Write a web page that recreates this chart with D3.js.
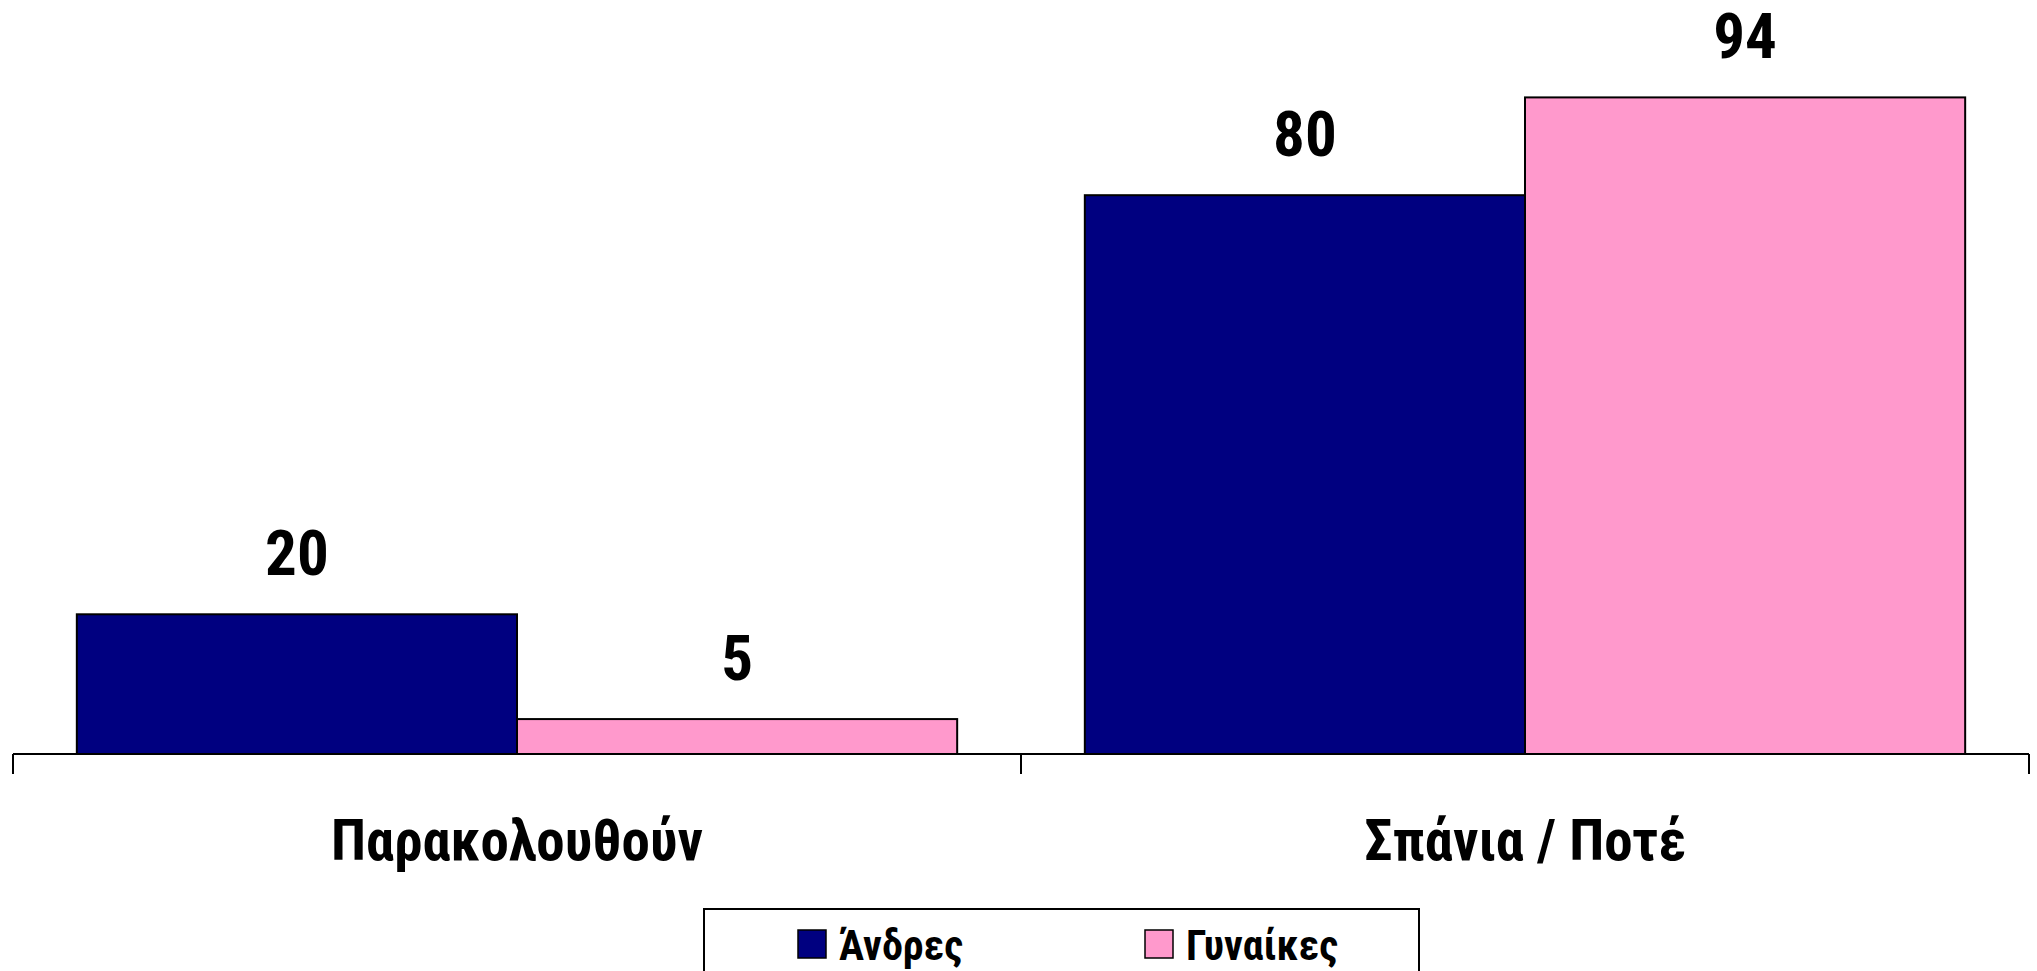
<!DOCTYPE html>
<html>
<head>
<meta charset="utf-8">
<script src="https://cdn.jsdelivr.net/npm/d3@7"></script>
<style>
body{margin:0;background:#fff;}
text{font-family:"Liberation Sans Narrow","Arial Narrow","Roboto Condensed",sans-serif;font-weight:bold;}
</style>
</head>
<body>
<div id="chart"></div>
<script>
// data
var categories=["Παρακολουθούν","Σπάνια / Ποτέ"]
var seriesNames=["Άνδρες","Γυναίκες"]
var andres=[20,80]
var gynaikes=[5,94]
var colors=["#000080","#ff99cc"]

var width=2037, height=971
var base=754

var svg=d3.select("#chart").append("svg")
	.attr("width",width)
	.attr("height",height)

var x0=d3.scaleBand().domain(categories).range([13,2029])
var x1=d3.scaleBand().domain(seriesNames).range([0,x0.bandwidth()]).paddingOuter(0.145)
var y=d3.scaleLinear().domain([0,100]).range([base,55.5])

var rows=categories.map(function(c,i){
	return {cat:c,vals:[{s:seriesNames[0],v:andres[i],c:colors[0]},{s:seriesNames[1],v:gynaikes[i],c:colors[1]}]}
})

var g=svg.selectAll(".grp").data(rows).enter().append("g")
	.attr("class","grp")
	.attr("transform",function(d){return "translate("+x0(d.cat)+",0)"})

g.selectAll("rect").data(function(d){return d.vals}).enter().append("rect")
	.attr("x",function(d){return x1(d.s)})
	.attr("y",function(d){return y(d.v)})
	.attr("width",x1.bandwidth())
	.attr("height",function(d){return base-y(d.v)})
	.attr("fill",function(d){return d.c})
	.attr("stroke","#000")
	.attr("stroke-width",2)

g.selectAll(".val").data(function(d){return d.vals}).enter().append("text")
	.attr("class","val")
	.attr("x",function(d){return x1(d.s)+x1.bandwidth()/2})
	.attr("y",function(d){return y(d.v)-39})
	.attr("text-anchor","middle")
	.style("font-size","63px")
	.text(function(d){return d.v})

// axis: baseline with ticks at the category boundaries
var bounds=[x0.range()[0]].concat(categories.map(function(c){return x0(c)+x0.bandwidth()}))
svg.append("line")
	.attr("x1",x0.range()[0]).attr("x2",x0.range()[1])
	.attr("y1",base).attr("y2",base)
	.attr("stroke","#000").attr("stroke-width",2)
svg.selectAll(".tick").data(bounds).enter().append("line")
	.attr("x1",function(d){return d}).attr("x2",function(d){return d})
	.attr("y1",base).attr("y2",base+20)
	.attr("stroke","#000").attr("stroke-width",2)

svg.selectAll(".cat").data(categories).enter().append("text")
	.attr("class","cat")
	.attr("x",function(d){return x0(d)+x0.bandwidth()/2})
	.attr("y",860)
	.attr("text-anchor","middle")
	.style("font-size","57px")
	.text(function(d){return d})

// legend
var leg=svg.append("g")
leg.append("rect")
	.attr("x",704).attr("y",909)
	.attr("width",715).attr("height",90)
	.attr("fill","#fff").attr("stroke","#000").attr("stroke-width",2)
var legX=[798,1145]
var li=leg.selectAll(".li").data(seriesNames).enter().append("g")
	.attr("transform",function(d,i){return "translate("+legX[i]+",930)"})
li.append("rect")
	.attr("width",28).attr("height",28)
	.attr("fill",function(d,i){return colors[i]})
	.attr("stroke","#000").attr("stroke-width",1.5)
li.append("text")
	.attr("x",41).attr("y",30)
	.style("font-size","42px")
	.text(function(d){return d})
</script>
</body>
</html>
